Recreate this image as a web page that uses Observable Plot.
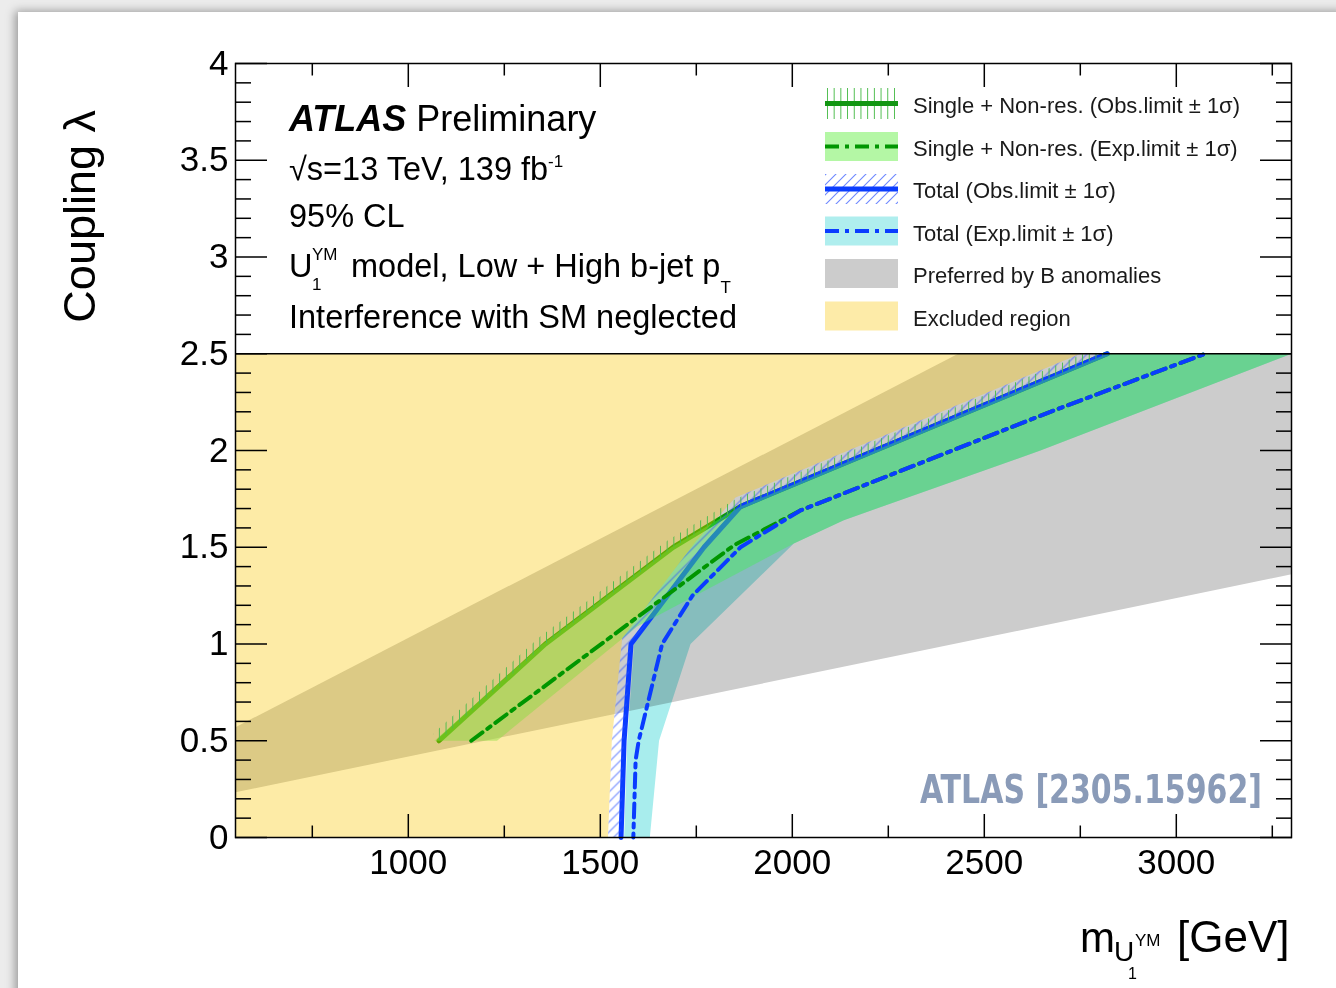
<!DOCTYPE html>
<html><head><meta charset="utf-8">
<script src="https://cdn.jsdelivr.net/npm/d3@7"></script>
<script src="https://cdn.jsdelivr.net/npm/@observablehq/plot@0.6"></script>
<style>
html,body{margin:0;padding:0;}
body{width:1336px;height:988px;position:relative;overflow:hidden;background:#ececec;font-family:"Liberation Sans",Arial,Helvetica,sans-serif;}
#page{position:absolute;left:18px;top:12px;width:1330px;height:990px;background:#fff;box-shadow:-3px -1px 9px rgba(0,0,0,0.35);}
#chart{position:absolute;left:0;top:0;}
#overlay{position:absolute;left:0;top:0;pointer-events:none;}
</style></head><body>
<div id="page"></div>
<div id="chart"></div>
<svg id="overlay" width="1336" height="988" font-family="Liberation Sans, Arial, Helvetica, sans-serif">
  <defs>
    <pattern id="hatchBlue" patternUnits="userSpaceOnUse" width="10" height="10">
      <path d="M0,10 L10,0 M-5,5 L5,-5 M5,15 L15,5" stroke="#2f55ff" stroke-opacity="0.7" stroke-width="1.1" fill="none"/>
    </pattern>
    <pattern id="hatchGreen" patternUnits="userSpaceOnUse" width="6.7" height="10">
      <path d="M3.35,0 V10" stroke="#4cbc4c" stroke-width="1" fill="none"/>
    </pattern>
  </defs>
  <!-- axis titles -->
  <text transform="translate(95,110) rotate(-90)" text-anchor="end" font-size="45">Coupling λ</text>
  <text x="1080" y="952" font-size="42">m</text>
  <text x="1114" y="961" font-size="28">U</text>
  <text x="1135" y="946" font-size="17">YM</text>
  <text x="1128" y="979" font-size="16">1</text>
  <text x="1177" y="952" font-size="44">[GeV]</text>
  <!-- annotation block -->
  <text x="289" y="131" font-size="36"><tspan font-weight="bold" font-style="italic">ATLAS</tspan> Preliminary</text>
  <text x="289" y="180" font-size="32.5">√s=13 TeV, 139 fb<tspan font-size="17" dy="-13">-1</tspan></text>
  <text x="289" y="227" font-size="32.5">95% CL</text>
  <text x="289" y="277" font-size="32.5">U</text>
  <text x="312" y="260" font-size="17">YM</text>
  <text x="312" y="290" font-size="17">1</text>
  <text x="351" y="277" font-size="32.5">model, Low + High b-jet p<tspan font-size="17" dy="16">T</tspan></text>
  <text x="289" y="328" font-size="32.5">Interference with SM neglected</text>
  <!-- legend -->
  <g>
    <rect x="825" y="88" width="73" height="31" fill="url(#hatchGreen)"/>
    <line x1="825" x2="898" y1="103.5" y2="103.5" stroke="#129612" stroke-width="5"/>
    <rect x="825" y="132" width="73" height="29" fill="#b4f7a5"/>
    <line x1="825" x2="898" y1="146.5" y2="146.5" stroke="#009600" stroke-width="4" stroke-dasharray="14,6,4,6"/>
    <rect x="825" y="174" width="73" height="30" fill="url(#hatchBlue)"/>
    <line x1="825" x2="898" y1="189" y2="189" stroke="#0a3cff" stroke-width="5"/>
    <rect x="825" y="216.5" width="73" height="29" fill="#afeeee"/>
    <line x1="825" x2="898" y1="231" y2="231" stroke="#0a3cff" stroke-width="4" stroke-dasharray="14,6,4,6"/>
    <rect x="825" y="259" width="73" height="29" fill="#cccccc"/>
    <rect x="825" y="301.5" width="73" height="29" fill="#fdeba8"/>
    <g font-size="22" fill="#1a1a1a">
      <text x="913" y="113">Single + Non-res. (Obs.limit ± 1σ)</text>
      <text x="913" y="155.5">Single + Non-res. (Exp.limit ± 1σ)</text>
      <text x="913" y="198">Total (Obs.limit ± 1σ)</text>
      <text x="913" y="240.5">Total (Exp.limit ± 1σ)</text>
      <text x="913" y="283">Preferred by B anomalies</text>
      <text x="913" y="325.5">Excluded region</text>
    </g>
  </g>
  <text x="1262" y="803" text-anchor="end" font-size="39" font-weight="bold" fill="#8a9bb8"
        font-family="Liberation Sans Narrow, DejaVu Sans Condensed, Liberation Sans, sans-serif"
        textLength="342" lengthAdjust="spacingAndGlyphs">ATLAS [2305.15962]</text>
</svg>
<script>
// ---- axes ----
const xDomain = [550, 3300];
const yDomain = [0, 4];
const xMajor = [1000, 1500, 2000, 2500, 3000];
const xMinor = [750, 1250, 1750, 2250, 2750, 3250];
const yMajor = [0, 0.5, 1, 1.5, 2, 2.5, 3, 3.5, 4];
const yMinor = d3.range(0, 41).map(i => i / 10).filter(v => !yMajor.includes(v));
const lambdaMax = 2.5;

// ---- data: [mass (GeV), coupling lambda] ----
// Single + Non-res., observed limit and its hatch edge
const obsSingle = [[1080, 0.5], [1357, 1.0], [1690, 1.5], [1865, 1.71], [2820, 2.5]];
const obsSingleEdge = [[1064, 0.535], [1342, 1.036], [1677, 1.538], [1854, 1.751], [2759, 2.5]];
// Single + Non-res., expected limit and +-1 sigma band
const expSingle = [[1164, 0.5], [1848, 1.51], [2021, 1.69], [2672, 2.2], [3075, 2.5]];
const expSingleUp = [[1068, 0.5], [1350, 1.0], [1685, 1.5], [1865, 1.71], [2820, 2.5]];
const expSingleDn = [[1231, 0.5], [1596, 1.09], [2004, 1.52], [2134, 1.64], [2646, 2.0], [3300, 2.5]];
// Total, observed limit and its hatch edge
const obsTotal = [[1554, 0], [1562, 0.5], [1580, 1.0], [1770, 1.5], [1865, 1.71], [2820, 2.5]];
const obsTotalEdge = [[1520, 0], [1530, 0.5], [1557, 1.03], [1750, 1.533], [1852, 1.757], [2750, 2.5]];
// Total, expected limit and +-1 sigma band
const expTotal = [[1586, 0], [1592, 0.4], [1600, 0.5], [1661, 1.0], [1740, 1.25], [1865, 1.5], [2021, 1.69], [2672, 2.2], [3075, 2.5]];
const expTotalUp = [[1562, 0], [1570, 0.5], [1588, 1.0], [1770, 1.5], [1865, 1.71], [2820, 2.5]];
const expTotalDn = [[1629, 0], [1653, 0.5], [1735, 1.0], [2004, 1.52], [2134, 1.64], [2646, 2.0], [3300, 2.5]];
// Preferred by B anomalies
const bUp = [[550, 0.57], [2432, 2.5], [3300, 2.5]];
const bDn = [[550, 0.234], [3300, 1.36]];

// polygons
const band = (up, dn) => [...up, ...dn.slice().reverse()];
const grayPoly = band(bUp, bDn);
const cyanPoly = band(expTotalUp, expTotalDn);
const greenPoly = band(expSingleUp, expSingleDn);
const yellowPoly = [[xDomain[0], 0], ...obsTotalEdge, [xDomain[0], lambdaMax]];
const blueHatchPoly = band(obsTotal, obsTotalEdge);
const greenHatchPoly = band(obsSingle, obsSingleEdge);

const X = d => d[0], Y = d => d[1];
const area = (data, o) => Plot.line(data, {x: X, y: Y, stroke: "none", ...o});
const tick0 = () => "";

const plot = Plot.plot({
  width: 1336, height: 988,
  marginLeft: 235, marginRight: 45, marginTop: 63, marginBottom: 151,
  x: {domain: xDomain},
  y: {domain: yDomain},
  style: {background: "transparent", fontFamily: "Liberation Sans, Arial, Helvetica, sans-serif", color: "black"},
  marks: [
    area(grayPoly, {fill: "#cccccc"}),
    area(cyanPoly, {fill: "#a8eded", mixBlendMode: "multiply"}),
    Plot.line(obsSingle, {x: X, y: Y, stroke: "#0a9a00", strokeWidth: 5, strokeLinejoin: "round"}),
    Plot.line(obsTotal, {x: X, y: Y, stroke: "#0a3cff", strokeWidth: 5, strokeLinejoin: "round"}),
    area(greenPoly, {fill: "rgb(70,235,90)", fillOpacity: 0.45}),
    area(yellowPoly, {fill: "#f9c603", fillOpacity: 0.353}),
    area(blueHatchPoly, {fill: "url(#hatchBlue)"}),
    area(greenHatchPoly, {fill: "url(#hatchGreen)"}),
    Plot.line(expSingle, {x: X, y: Y, stroke: "#009600", strokeWidth: 4, strokeDasharray: "14,6,4,6"}),
    Plot.line(expTotal, {x: X, y: Y, stroke: "#0a3cff", strokeWidth: 4, strokeDasharray: "14,6,4,6", strokeDashoffset: 10}),
    Plot.ruleY([lambdaMax], {stroke: "black", strokeWidth: 1.5}),
    Plot.frame({stroke: "black", strokeWidth: 1.5}),
    // inward ticks on all four sides
    Plot.axisY(yMajor, {anchor: "left", tickSize: -32, tickFormat: tick0, label: null, strokeWidth: 1.5}),
    Plot.axisY(yMinor, {anchor: "left", tickSize: -16, tickFormat: tick0, label: null, strokeWidth: 1.5}),
    Plot.axisY(yMajor, {anchor: "right", tickSize: -32, tickFormat: tick0, label: null, strokeWidth: 1.5}),
    Plot.axisY(yMinor, {anchor: "right", tickSize: -16, tickFormat: tick0, label: null, strokeWidth: 1.5}),
    Plot.axisX(xMajor, {anchor: "bottom", tickSize: -23, tickFormat: tick0, label: null, strokeWidth: 1.5}),
    Plot.axisX(xMinor, {anchor: "bottom", tickSize: -11.5, tickFormat: tick0, label: null, strokeWidth: 1.5}),
    Plot.axisX(xMajor, {anchor: "top", tickSize: -23, tickFormat: tick0, label: null, strokeWidth: 1.5}),
    Plot.axisX(xMinor, {anchor: "top", tickSize: -11.5, tickFormat: tick0, label: null, strokeWidth: 1.5}),
    // tick labels
    Plot.axisY(yMajor, {anchor: "left", tickSize: 0, tickPadding: 7, fontSize: 35, label: null, tickFormat: d => String(d)}),
    Plot.axisX(xMajor, {anchor: "bottom", tickSize: 0, tickPadding: 12, fontSize: 35, label: null, tickFormat: d => String(d)})
  ]
});
document.getElementById("chart").appendChild(plot);
</script>
</body></html>
